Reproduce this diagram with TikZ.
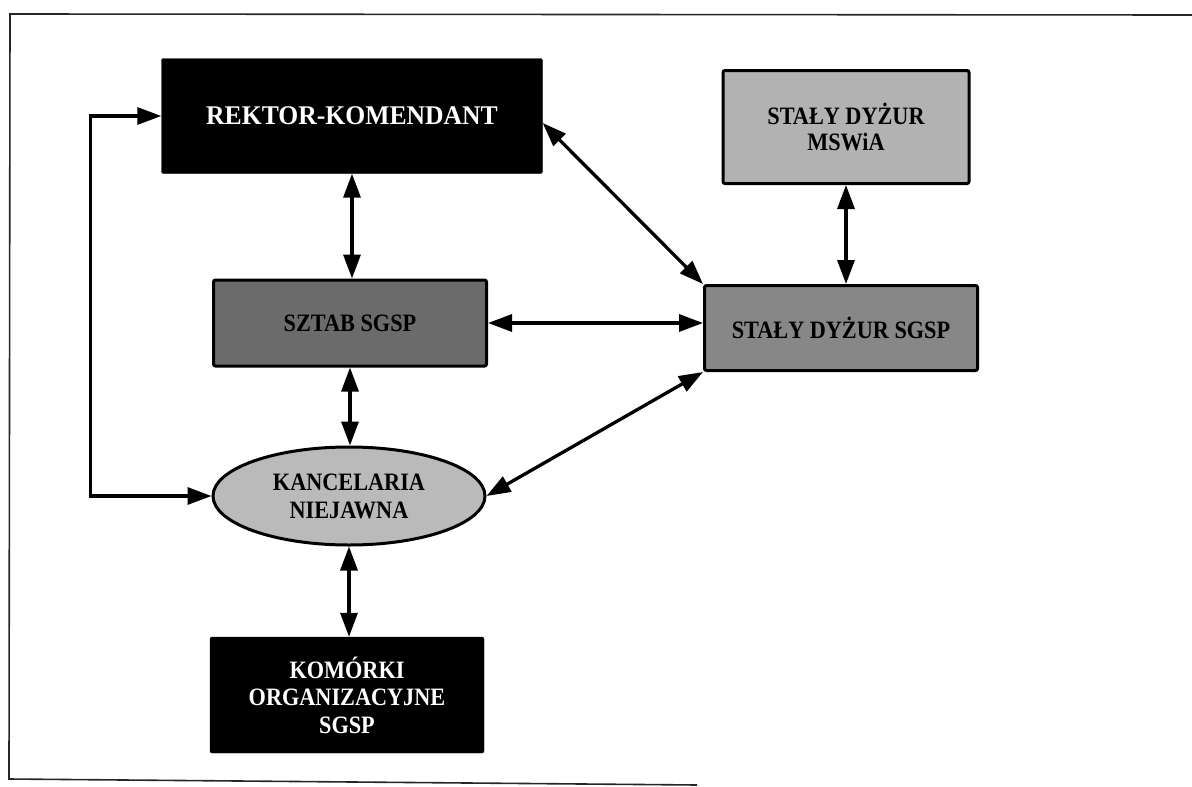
\documentclass[tikz,border=0pt]{standalone}
\usepackage{fontspec}
\setmainfont{Liberation Serif}
\newfontfamily\narrowserif[FakeStretch=0.89]{Liberation Serif}
\newfontfamily\titleserif[FakeStretch=0.95]{Liberation Serif}
\usetikzlibrary{arrows.meta,shapes.geometric,calc}
\tikzset{
  link/.style={line width=3.3pt,{Triangle[length=24pt,width=17pt]}-{Triangle[length=24pt,width=17pt]}},
  blackbox/.style={rectangle,rounded corners=2pt,fill=black,draw=black,text=white,inner sep=0pt,align=center,
    font=\narrowserif\bfseries\fontsize{25}{27.5}\selectfont},
  graybox/.style={rectangle,rounded corners=2pt,draw=black,line width=3pt,text=black,inner sep=0pt,align=center,
    font=\narrowserif\bfseries\fontsize{25}{26}\selectfont},
  frame/.style={line width=1.6pt,black!85}
}
\begin{document}
\begin{tikzpicture}[x=1pt,y=-1pt]
\useasboundingbox (0,0) rectangle (1192,787);
% frame
\draw[frame] (1192,15) -- (10,14) -- (9,779) -- (697,785);
% nodes
\node[blackbox,minimum width=381pt,minimum height=115pt,font=\titleserif\bfseries\fontsize{27}{30}\selectfont] (rektor) at (352,116) {REKTOR-KOMENDANT};
\node[graybox,fill=black!30,minimum width=246pt,minimum height=113pt] (mswia) at (846,127) {STAŁY DYŻUR\\MSWiA};
\node[graybox,fill=black!58,minimum width=273pt,minimum height=86pt] (sztab) at (350,323) {SZTAB SGSP};
\node[graybox,fill=black!47,minimum width=273pt,minimum height=85pt] (dyzur) at (841,328) {STAŁY DYŻUR SGSP};
\node[ellipse,draw=black,line width=3pt,fill=black!27,minimum width=272pt,minimum height=98pt,inner sep=0pt,align=center,
  font=\narrowserif\bfseries\fontsize{25}{28}\selectfont] (kanc) at (349,496) {KANCELARIA\\NIEJAWNA};
\node[blackbox,minimum width=274pt,minimum height=116pt] (kom) at (347,695) {KOMÓRKI\\ORGANIZACYJNE\\SGSP};
% connectors
\draw[link] (rektor.south) -- (rektor.south |- sztab.north);
\draw[link] (sztab.south) -- (sztab.south |- kanc.north);
\draw[link] (kanc.south) -- (kanc.south |- kom.north);
\draw[link] ($(rektor.east)+(0,7)$) -- (dyzur.north west);
\draw[link] (sztab.east) -- (sztab.east -| dyzur.west);
\draw[link] (kanc.east) -- (dyzur.south west);
\draw[link] (mswia.south) -- (mswia.south |- dyzur.north);
\draw[link] (kanc.west) -- ++(-121,0) |- (rektor.west);
\end{tikzpicture}
\end{document}
